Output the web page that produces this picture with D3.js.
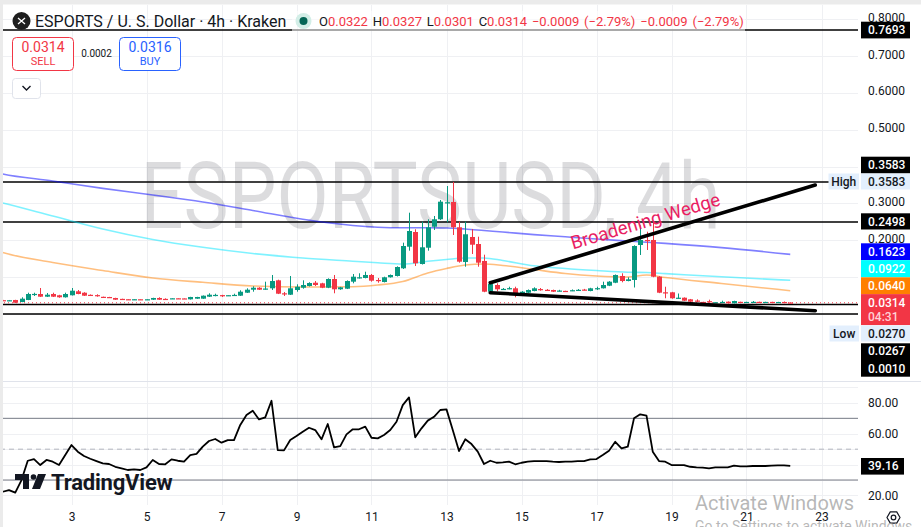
<!DOCTYPE html>
<html>
<head>
<meta charset="utf-8">
<script src="https://cdn.jsdelivr.net/npm/d3@7"></script>
<style>
  html, body { margin: 0; padding: 0; background: #fff; }
  svg { display: block; font-family: Roboto, "Noto Sans", sans-serif; }
</style>
</head>
<body>
<svg id="chart" width="921" height="527"></svg>
<script>
// ---- data (4h candles, first one at day 1 04:00) ----
var opens = [.0385,.0378,.0390,.0335,.0390,.0545,.0552,.0479,.0552,.0517,.0463,.0517,.0625,.0587,.0530,.0522,.0476,.0470,.0444,.0420,
  .0411,.0405,.0410,.0404,.0398,.0444,.0420,.0430,.0436,.0433,.0408,.0425,.0425,.0479,.0522,.0522,.0514,.0520,.0506,.0587,
  .0668,.0722,.0679,.0706,.0922,.0571,.0533,.0660,.0722,.0768,.0857,.0841,.0722,.0958,.0679,.0695,.0885,.0993,.0985,.1066,
  .0931,.0876,.1004,.1039,.1247,.1831,.2229,.1363,.1804,.2372,.2573,.3022,.3041,.2356,.1417,.2094,.1904,.1445,.0614,.0795,
  .0680,.0700,.0706,.0525,.0587,.0633,.0685,.0665,.0660,.0635,.0636,.0645,.0655,.0672,.0633,.0702,.0706,.0776,.0857,.1039,
  .0903,.0931,.1877,.2013,.2013,.1020,.0598,.0598,.0436,.0452,.0408,.0375,.0338,.0358,.0325,.0330,.0344,.0300,.0340,.0332,
  .0334,.0340,.0332,.0338,.0330,.0336,.0322];
var highs = [.0392,.0390,.0395,.0463,.0587,.0587,.0714,.0579,.0587,.0530,.0587,.0714,.0660,.0600,.0540,.0544,.0480,.0475,.0450,.0425,
  .0415,.0415,.0414,.0415,.0450,.0463,.0435,.0440,.0440,.0438,.0476,.0476,.0512,.0571,.0560,.0530,.0524,.0560,.0652,.0706,
  .0760,.0735,.0885,.1066,.0939,.0606,.1039,.0814,.0922,.0870,.0903,.0855,.0975,.1066,.0745,.0920,.1093,.1112,.1155,.1093,
  .0985,.1020,.1080,.1300,.1940,.2751,.2302,.2508,.2573,.2662,.3095,.3473,.3583,.2508,.2508,.2310,.2102,.1615,.0857,.0841,
  .0714,.0749,.0749,.0630,.0675,.0733,.0714,.0685,.0670,.0665,.0640,.0675,.0685,.0690,.0720,.0749,.0885,.0900,.1080,.1112,
  .1004,.1870,.2418,.2237,.2508,.1035,.0749,.0610,.0565,.0460,.0418,.0408,.0342,.0398,.0334,.0371,.0350,.0370,.0344,.0342,
  .0362,.0344,.0342,.0342,.0340,.0350,.0327];
var lows = [.0378,.0372,.0310,.0330,.0385,.0498,.0470,.0470,.0470,.0450,.0455,.0510,.0545,.0498,.0512,.0479,.0462,.0460,.0392,.0410,
  .0400,.0400,.0400,.0400,.0392,.0392,.0400,.0425,.0425,.0424,.0402,.0420,.0420,.0472,.0490,.0471,.0510,.0498,.0498,.0580,
  .0614,.0660,.0670,.0660,.0550,.0498,.0525,.0614,.0695,.0755,.0768,.0710,.0710,.0571,.0665,.0685,.0841,.0971,.0975,.0885,
  .0857,.0865,.0995,.1025,.1228,.1723,.1309,.1350,.1723,.2283,.2554,.2491,.2148,.1399,.1290,.1634,.1290,.0600,.0605,.0625,
  .0660,.0679,.0463,.0515,.0578,.0625,.0641,.0640,.0605,.0620,.0622,.0630,.0645,.0650,.0625,.0660,.0700,.0765,.0845,.0868,
  .0895,.0728,.1607,.1742,.1005,.0575,.0436,.0425,.0425,.0362,.0335,.0335,.0328,.0316,.0320,.0316,.0295,.0295,.0330,.0328,
  .0316,.0330,.0328,.0328,.0326,.0315,.0301];
var closes = [.0381,.0383,.0316,.0425,.0552,.0555,.0479,.0533,.0479,.0463,.0552,.0641,.0552,.0506,.0520,.0512,.0468,.0465,.0398,.0414,
  .0405,.0411,.0404,.0410,.0444,.0398,.0414,.0436,.0430,.0428,.0471,.0471,.0506,.0533,.0528,.0514,.0520,.0528,.0614,.0668,
  .0722,.0668,.0700,.0903,.0560,.0544,.0706,.0749,.0795,.0849,.0795,.0722,.0958,.0679,.0733,.0903,.1020,.1004,.1066,.0912,
  .0922,.1004,.1066,.1282,.1850,.2256,.1382,.1815,.2356,.2573,.3049,.3033,.2356,.1426,.2167,.1885,.1399,.0614,.0822,.0679,
  .0690,.0710,.0533,.0614,.0660,.0706,.0675,.0655,.0614,.0645,.0628,.0655,.0665,.0664,.0706,.0710,.0795,.0885,.1066,.0903,
  .0949,.1850,.2013,.1994,.1020,.0587,.0587,.0436,.0452,.0371,.0344,.0367,.0332,.0350,.0330,.0338,.0300,.0362,.0334,.0338,
  .0340,.0334,.0338,.0332,.0336,.0322,.0314];
var rsi = [22.4,23.5,21.8,30,42.5,43.6,39.7,43,41.9,39.7,46.2,52.7,48.4,45.6,43.8,42.3,40.8,40.4,38.6,37.6,
  36.5,36.9,36.5,38.2,43,40.4,40.2,43.4,42.5,41.9,46.2,46.9,51.6,55.3,56.6,54.2,55.9,55.9,65.7,72.1,
  74.9,69.3,70.6,81.4,49.4,49.2,55.9,58.5,61.3,63.9,62.4,56.4,66.3,51.2,52,59.6,62.9,62.9,64.6,57.4,
  57,59.2,62.4,67.8,78.6,83.6,57.7,63.5,68.5,71,75.4,75.8,62.4,48.8,56.4,53.3,48.4,40.4,42.5,41.2,
  41.5,41.9,40.2,41.2,41.9,42.3,42.3,42.3,41.9,41.7,41.9,41.9,42.3,42.3,43.4,43.6,46.2,49,54.8,50.5,
  51.6,70,72.6,71.7,48.4,42.3,41.9,39.7,39.7,39.7,38.6,38.2,38,37.6,38.2,38.2,38.2,39.3,38.9,38.9,
  39.1,39.1,39.1,39.3,39.5,39.5,39.16];

// moving averages, read at these candle numbers (0 = day 1 00:00)
var maIdx = [0,1,9,17,25,33,41,49,57,61,65,69,72,75,78,81,86,91,96,101,104,107,116,127];
var maBlue = [.3836,.3798,.3608,.3408,.3230,.3040,.2810,.2572,.2405,.2359,.2342,.2342,.2337,.2310,.2269,.2229,.2159,.2099,.2039,.1985,.1953,.1920,.1807,.1623];
var maCyan = [.3054,.3013,.2662,.2310,.2026,.1815,.1647,.1526,.1439,.1396,.1363,.1436,.1485,.1526,.1526,.1458,.1315,.1242,.1187,.1141,.1133,.1104,.1017,.0922];
var maOrange = [.1728,.1674,.1404,.1187,.0985,.0868,.0768,.0741,.0749,.0795,.0890,.1120,.1242,.1336,.1363,.1323,.1214,.1106,.1039,.1012,.1066,.0998,.0836,.0641];

var hLevels = [0.7693, 0.3583, 0.2498, 0.0267, 0.0010];
var lastPrice = 0.0314;
// wedge: [candle number, price]
var wedgeUpper = [[79, 0.0857], [131, 0.3500]];
var wedgeLower = [[79, 0.0587], [131, 0.0100]];

var priceGrid = [0, 0.1, 0.2, 0.3, 0.4, 0.5, 0.6, 0.7, 0.8];
var priceTicks = [0.2, 0.3, 0.5, 0.6, 0.7, 0.8];   // the others sit under the badges
var rsiTicks = [20, 60, 80];
var dayTicks = [3, 5, 7, 9, 11, 13, 15, 17, 19, 21, 23];

// ---- scales ----
var H4 = 4 * 3600 * 1000;
var day0 = Date.UTC(2025, 6, 1);
var tOf = function(n) { return new Date(day0 + n * H4); };

var x = d3.scaleUtc()
  .domain([new Date(day0), new Date(Date.UTC(2025, 6, 23))])
  .range([-3.5, 821.5]);
var y = d3.scaleLinear().domain([0, 0.8]).range([314.4, 18.64]);
var yR = d3.scaleLinear().domain([0, 100]).range([526.3, 372.05]);

var paneR = 858;
var teal = '#089981', red = '#F23645';

var svg = d3.select('#chart');
svg.append('rect').attr('width', 921).attr('height', 527).attr('fill', '#fff');

var defs = svg.append('defs');
defs.append('clipPath').attr('id', 'pp').append('rect')
  .attr('x', 0).attr('y', 5).attr('width', paneR).attr('height', 376);
defs.append('clipPath').attr('id', 'rp').append('rect')
  .attr('x', 0).attr('y', 382).attr('width', paneR).attr('height', 123);

// ---- grid ----
var grid = svg.append('g').attr('stroke', '#eff0f3').attr('stroke-width', 1).attr('shape-rendering', 'crispEdges');
priceGrid.forEach(function(v) {
  grid.append('line').attr('x1', 0).attr('x2', paneR).attr('y1', Math.round(y(v)) + 0.5).attr('y2', Math.round(y(v)) + 0.5);
});
[20, 30, 40, 50, 60, 70, 80, 90].forEach(function(v) {
  grid.append('line').attr('x1', 0).attr('x2', paneR).attr('y1', Math.round(yR(v)) + 0.5).attr('y2', Math.round(yR(v)) + 0.5);
});
dayTicks.forEach(function(d) {
  var gx = Math.round(x(new Date(Date.UTC(2025, 6, d)))) + 0.5;
  grid.append('line').attr('x1', gx).attr('x2', gx).attr('y1', 5).attr('y2', 505);
});
svg.append('line').attr('x1', 0).attr('x2', 921).attr('y1', 381.5).attr('y2', 381.5)
  .attr('stroke', '#e0e3eb').attr('shape-rendering', 'crispEdges');

// ---- watermark ----
svg.append('text')
  .attr('x', 430.5).attr('y', 228)
  .attr('text-anchor', 'middle')
  .attr('font-size', 92)
  .attr('textLength', 580).attr('lengthAdjust', 'spacingAndGlyphs')
  .attr('fill', '#131722').attr('fill-opacity', 0.15)
  .text('ESPORTSUSD, 4h');

// ---- price pane ----
var price = svg.append('g').attr('clip-path', 'url(#pp)');

hLevels.forEach(function(v) {
  price.append('line').attr('x1', 0).attr('x2', paneR)
    .attr('y1', y(v)).attr('y2', y(v))
    .attr('stroke', '#000').attr('stroke-width', 1.4);
});
price.append('line').attr('x1', 0).attr('x2', paneR)
  .attr('y1', y(lastPrice)).attr('y2', y(lastPrice))
  .attr('stroke', red).attr('stroke-width', 1).attr('stroke-dasharray', '1,3');

var maLine = d3.line()
  .x(function(d, i) { return x(tOf(maIdx[i])); })
  .y(function(d) { return y(d); })
  .curve(d3.curveMonotoneX);

[[maBlue, '#0000ff'], [maCyan, '#00e5ff'], [maOrange, '#ff7f00']].forEach(function(m) {
  price.append('path').attr('d', maLine(m[0]))
    .attr('fill', 'none').attr('stroke', m[1]).attr('stroke-opacity', 0.5).attr('stroke-width', 1.6);
});

var candles = price.selectAll('.candle')
  .data(opens.map(function(o, i) { return { t: tOf(i + 1), o: o, h: highs[i], l: lows[i], c: closes[i] }; }))
  .enter().append('g').attr('class', 'candle');

candles.append('line')
  .attr('x1', function(d) { return Math.round(x(d.t)) + 0.5; })
  .attr('x2', function(d) { return Math.round(x(d.t)) + 0.5; })
  .attr('y1', function(d) { return y(d.h); })
  .attr('y2', function(d) { return y(d.l); })
  .attr('stroke', function(d) { return d.c >= d.o ? teal : red; })
  .attr('stroke-width', 1);

candles.append('rect')
  .attr('x', function(d) { return Math.round(x(d.t)) - 2; })
  .attr('width', 5)
  .attr('y', function(d) { return Math.min(y(d.o), y(d.c)); })
  .attr('height', function(d) { return Math.max(1.2, Math.abs(y(d.o) - y(d.c))); })
  .attr('fill', function(d) { return d.c >= d.o ? teal : red; });

// wedge
[wedgeUpper, wedgeLower].forEach(function(w) {
  price.append('line')
    .attr('x1', x(tOf(w[0][0]))).attr('y1', y(w[0][1]))
    .attr('x2', x(tOf(w[1][0]))).attr('y2', y(w[1][1]))
    .attr('stroke', '#000').attr('stroke-width', 3.6).attr('stroke-linecap', 'round');
});
var ux1 = x(tOf(wedgeUpper[0][0])), uy1 = y(wedgeUpper[0][1]);
var ux2 = x(tOf(wedgeUpper[1][0])), uy2 = y(wedgeUpper[1][1]);
var ang = Math.atan2(uy2 - uy1, ux2 - ux1) * 180 / Math.PI;
var f = 0.49;
price.append('text')
  .attr('transform', 'translate(' + (ux1 + f * (ux2 - ux1)) + ',' + (uy1 + f * (uy2 - uy1)) + ') rotate(' + ang + ')')
  .attr('x', 0).attr('y', -8)
  .attr('text-anchor', 'middle')
  .attr('font-size', 18.5)
  .attr('fill', '#e91e63')
  .text('Broadening Wedge');

// ---- RSI pane ----
var rp = svg.append('g').attr('clip-path', 'url(#rp)');
rp.append('line').attr('x1', 0).attr('x2', paneR).attr('y1', yR(70)).attr('y2', yR(70)).attr('stroke', '#787b86');
rp.append('line').attr('x1', 0).attr('x2', paneR).attr('y1', yR(30)).attr('y2', yR(30)).attr('stroke', '#787b86');
rp.append('line').attr('x1', 0).attr('x2', paneR).attr('y1', yR(50)).attr('y2', yR(50))
  .attr('stroke', '#b2b5be').attr('stroke-dasharray', '5,4');
rp.append('path')
  .attr('d', d3.line().x(function(d, i) { return x(tOf(i + 1)); }).y(function(d) { return yR(d); })(rsi))
  .attr('fill', 'none').attr('stroke', '#000').attr('stroke-width', 1.8).attr('stroke-linejoin', 'round');

// TradingView logo
var logo = svg.append('g').attr('fill', '#131722');
logo.append('path').attr('d', 'M15,474 H29 V489 H23 V480 H15 Z');
logo.append('circle').attr('cx', 33.5).attr('cy', 477).attr('r', 2.8);
logo.append('path').attr('d', 'M38,474 H46 L40,489 H32 Z');
logo.append('text').attr('x', 51).attr('y', 490).attr('font-size', 22).attr('font-weight', 700)
  .attr('letter-spacing', -0.2).text('TradingView');

// ---- axes ----
var xAxis = svg.append('g').attr('transform', 'translate(0,505)')
  .call(d3.axisBottom(x)
    .tickValues(dayTicks.map(function(d) { return new Date(Date.UTC(2025, 6, d)); }))
    .tickFormat(d3.utcFormat('%-d')).tickSize(0).tickPadding(7));
var pAxis = svg.append('g').attr('transform', 'translate(' + paneR + ',0)')
  .call(d3.axisRight(y).tickValues(priceTicks).tickFormat(d3.format('.4f')).tickSize(0).tickPadding(10));
var rAxis = svg.append('g').attr('transform', 'translate(' + paneR + ',0)')
  .call(d3.axisRight(yR).tickValues(rsiTicks).tickFormat(d3.format('.2f')).tickSize(0).tickPadding(10));
[xAxis, pAxis, rAxis].forEach(function(a) {
  a.select('.domain').remove();
  a.selectAll('text').attr('font-size', 12).attr('fill', '#131722').attr('font-family', 'Roboto, sans-serif');
});
pAxis.selectAll('text').attr('dy', '0.2em');

// badges on the price scale
function badge(x0, y0, w, h, bg, lines) {
  svg.append('rect').attr('x', x0).attr('y', y0).attr('width', w).attr('height', h).attr('fill', bg);
  lines.forEach(function(l) {
    svg.append('text').attr('x', l.x || 868).attr('y', l.y).attr('dy', '0.35em')
      .attr('font-size', 12).attr('font-weight', 500).attr('fill', l.c)
      .attr('text-anchor', l.a || 'start').text(l.t);
  });
}
badge(861, 21.7, 49, 16.7, '#000', [{ t: '0.7693', y: 30, c: '#fff' }]);
badge(861, 156.7, 49, 16.7, '#000', [{ t: '0.3583', y: 165, c: '#fff' }]);
badge(828.5, 173.5, 30.5, 16, '#e3effd', [{ t: 'High', y: 181.5, c: '#131722', x: 843.7, a: 'middle' }]);
badge(861, 173.5, 49, 16, '#e3effd', [{ t: '0.3583', y: 181.5, c: '#131722' }]);
badge(861, 213.3, 49, 16.2, '#000', [{ t: '0.2498', y: 221.4, c: '#fff' }]);
badge(861, 243.3, 49, 16.8, '#0000ff', [{ t: '0.1623', y: 251.7, c: '#fff' }]);
badge(861, 260.1, 49, 17.2, '#00ffff', [{ t: '0.0922', y: 268.7, c: '#fff' }]);
badge(861, 277.3, 49, 16.8, '#ff7f00', [{ t: '0.0640', y: 285.7, c: '#fff' }]);
badge(861, 294.1, 49, 31, red, [{ t: '0.0314', y: 302.8, c: '#fff' }, { t: '04:31', y: 316.8, c: '#ffd2d7' }]);
badge(829.5, 325.5, 29.5, 16, '#e3effd', [{ t: 'Low', y: 333.5, c: '#131722', x: 844.2, a: 'middle' }]);
badge(861, 325.5, 49, 16, '#e3effd', [{ t: '0.0270', y: 333.5, c: '#131722' }]);
badge(861, 343.3, 49, 33.4, '#000', [{ t: '0.0267', y: 351, c: '#fff' }, { t: '0.0010', y: 368.3, c: '#fff' }]);
badge(861, 458, 43, 16.6, '#000', [{ t: '39.16', y: 466.2, c: '#fff' }]);

// settings icon
var gear = svg.append('g').attr('fill', 'none').attr('stroke', '#131722').attr('stroke-width', 1.2);
gear.append('path').attr('d', d3.range(6).map(function(k) {
  var a = Math.PI / 3 * k;
  return (k ? 'L' : 'M') + (893.5 + 6.5 * Math.cos(a)) + ',' + (517.5 + 6.5 * Math.sin(a));
}).join('') + 'Z');
gear.append('circle').attr('cx', 893.5).attr('cy', 517.5).attr('r', 2.3);

// ---- legend ----
svg.append('rect').attr('x', 292).attr('y', 11).attr('width', 453).attr('height', 20).attr('fill', '#fff').attr('fill-opacity', 0.55);
var ic = svg.append('g');
ic.append('circle').attr('cx', 21.5).attr('cy', 21).attr('r', 9).attr('fill', '#1e1e1e');
ic.append('path').attr('d', 'M18,18 L25,24 M25,18 L18,24').attr('stroke', '#fff').attr('stroke-width', 1.3);
svg.append('text').attr('x', 35).attr('y', 26.5).attr('font-size', 16).attr('fill', '#131722')
  .text('ESPORTS / U. S. Dollar · 4h · Kraken');
svg.append('circle').attr('cx', 303.5).attr('cy', 21).attr('r', 8).attr('fill', '#d3eee7');
svg.append('circle').attr('cx', 303.5).attr('cy', 21).attr('r', 4).attr('fill', '#056656');

var ohlc = svg.append('text').attr('x', 319).attr('y', 25.5).attr('font-size', 13)
  .attr('word-spacing', 1.6).attr('fill', red);
[['O', '0.0322 '], ['H', '0.0327 '], ['L', '0.0301 '], ['C', '0.0314 '], ['', '−0.0009 (−2.79%) '], ['', '−0.0009 (−2.79%)']]
  .forEach(function(p) {
    if (p[0]) ohlc.append('tspan').attr('fill', '#131722').text(p[0]);
    ohlc.append('tspan').attr('fill', red).text(p[1]);
  });

function tradeBox(x0, stroke, val, lbl) {
  svg.append('rect').attr('x', x0).attr('y', 37.5).attr('width', 61).attr('height', 33).attr('rx', 4)
    .attr('fill', '#fff').attr('stroke', stroke);
  svg.append('text').attr('x', x0 + 30.5).attr('y', 51.7).attr('text-anchor', 'middle')
    .attr('font-size', 14).attr('fill', stroke).text(val);
  svg.append('text').attr('x', x0 + 30.5).attr('y', 65).attr('text-anchor', 'middle')
    .attr('font-size', 11).attr('fill', stroke).text(lbl);
}
tradeBox(12.5, red, '0.0314', 'SELL');
tradeBox(119.5, '#2962ff', '0.0316', 'BUY');
svg.append('text').attr('x', 96.5).attr('y', 56.7).attr('text-anchor', 'middle')
  .attr('font-size', 10).attr('fill', '#131722').text('0.0002');
svg.append('rect').attr('x', 12.5).attr('y', 78.5).attr('width', 28).attr('height', 20).attr('rx', 3)
  .attr('fill', '#fff').attr('stroke', '#e0e3eb');
svg.append('path').attr('d', 'M22.5,86 L26.5,90 L30.5,86').attr('fill', 'none')
  .attr('stroke', '#131722').attr('stroke-width', 1.4);

// windows watermark (overlaps the time axis in the screenshot too)
svg.append('text').attr('x', 695).attr('y', 510).attr('font-size', 20).attr('fill', '#a0a0a0').attr('fill-opacity', 0.75)
  .text('Activate Windows');
svg.append('text').attr('x', 695).attr('y', 531).attr('font-size', 14).attr('fill', '#a0a0a0').attr('fill-opacity', 0.75)
  .text('Go to Settings to activate Windows.');

// screenshot borders
svg.append('rect').attr('x', 0).attr('y', 0).attr('width', 921).attr('height', 4.5).attr('fill', '#ebebeb');
svg.append('rect').attr('x', 0).attr('y', 0).attr('width', 3).attr('height', 527).attr('fill', '#ebebeb');
</script>
</body>
</html>
